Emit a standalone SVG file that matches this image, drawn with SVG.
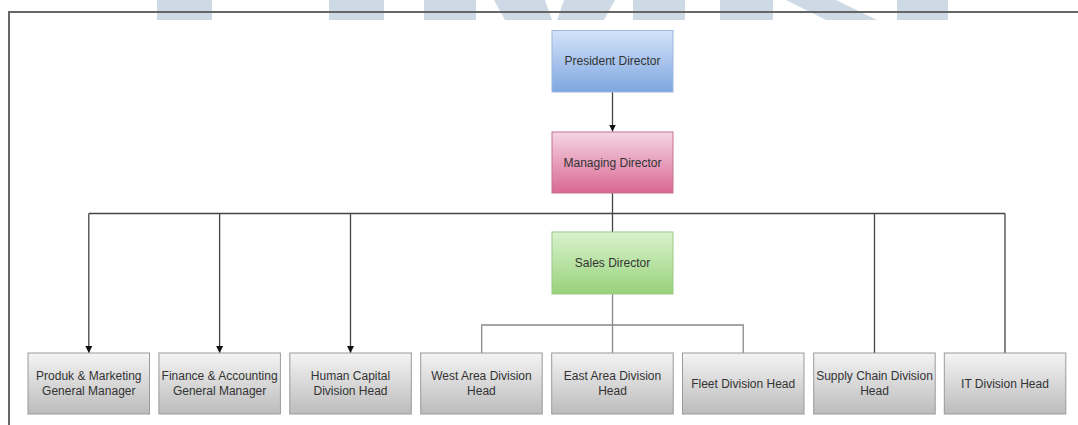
<svg xmlns="http://www.w3.org/2000/svg" width="1078" height="425" viewBox="0 0 1078 425">
<style>
.lbl{font-family:"Liberation Sans",Arial,sans-serif;font-size:12px;fill:#333;text-anchor:middle}
.wm{fill:#cdd9e4}
.frame{stroke:#666;stroke-width:2;fill:none}
.bus{stroke:#444;stroke-width:1.3;fill:none}
.sub{stroke:#888;stroke-width:1.3;fill:none}
.gbox{fill:url(#gGray);stroke:#9a9a9a;stroke-width:1}
</style>
<defs>
<linearGradient id="gBlue" x1="0" y1="0" x2="0" y2="1"><stop offset="0" stop-color="#d3e3f9"/><stop offset="1" stop-color="#7ea6e0"/></linearGradient>
<linearGradient id="gPink" x1="0" y1="0" x2="0" y2="1"><stop offset="0" stop-color="#f5d5e4"/><stop offset="1" stop-color="#d96893"/></linearGradient>
<linearGradient id="gGreen" x1="0" y1="0" x2="0" y2="1"><stop offset="0" stop-color="#d9f2cd"/><stop offset="1" stop-color="#97d27a"/></linearGradient>
<linearGradient id="gGray" x1="0" y1="0" x2="0" y2="1"><stop offset="0" stop-color="#f4f4f4"/><stop offset="1" stop-color="#bcbcbc"/></linearGradient>
<marker id="arr" viewBox="0 0 10 10" refX="10" refY="5" markerWidth="7" markerHeight="8" markerUnits="userSpaceOnUse" orient="auto"><path d="M0,0 L10,5 L0,10 z" fill="#111"/></marker>
</defs>
<rect width="1078" height="425" fill="#fff"/>
<g id="watermark">
<rect class="wm" x="157" y="0" width="55" height="20"/>
<rect class="wm" x="329" y="0" width="55" height="20"/>
<rect class="wm" x="424" y="0" width="52" height="20"/>
<polygon class="wm" points="494,0 545,0 552,20 505,20"/>
<polygon class="wm" points="615,0 564,0 557,20 604,20"/>
<rect class="wm" x="633" y="0" width="52" height="20"/>
<rect class="wm" x="720" y="0" width="53" height="20"/>
<polygon class="wm" points="786,0 836,0 877,20 826,20"/>
<rect class="wm" x="897" y="0" width="51" height="20"/>
</g>
<g id="frame">
<path class="frame" d="M9,425 V12 H1078"/>
</g>
<g id="connectors">
<line class="bus" x1="612.5" y1="92" x2="612.5" y2="131.5" marker-end="url(#arr)"/>
<line class="bus" x1="612.5" y1="193" x2="612.5" y2="232"/>
<line class="bus" x1="88.8" y1="213.5" x2="1005" y2="213.5"/>
<line class="bus" x1="88.8" y1="213.5" x2="88.8" y2="353" marker-end="url(#arr)"/>
<line class="bus" x1="219.6" y1="213.5" x2="219.6" y2="353" marker-end="url(#arr)"/>
<line class="bus" x1="350.5" y1="213.5" x2="350.5" y2="353" marker-end="url(#arr)"/>
<line class="bus" x1="874.5" y1="213.5" x2="874.5" y2="353"/>
<line class="bus" x1="1005" y1="213.5" x2="1005" y2="353"/>
<line class="sub" x1="612.5" y1="294" x2="612.5" y2="353"/>
<path class="sub" d="M481.7,353 V325 H743.2 V353"/>
</g>
<g id="president">
<rect x="552" y="30.5" width="121" height="61.5" fill="url(#gBlue)" stroke="#9db6de" stroke-width="1"/>
<text class="lbl" x="612.5" y="65">President Director</text>
</g>
<g id="managing">
<rect x="552" y="132" width="121" height="61" fill="url(#gPink)" stroke="#c4728f" stroke-width="1"/>
<text class="lbl" x="612.5" y="166.5">Managing Director</text>
</g>
<g id="sales">
<rect x="552" y="232" width="121" height="62" fill="url(#gGreen)" stroke="#9cc985" stroke-width="1"/>
<text class="lbl" x="612.5" y="267">Sales Director</text>
</g>
<g id="produk">
<rect class="gbox" x="28" y="353" width="121.5" height="61"/>
<text class="lbl" x="88.8" y="380">Produk &amp; Marketing</text>
<text class="lbl" x="88.8" y="395">General Manager</text>
</g>
<g id="finance">
<rect class="gbox" x="158.9" y="353" width="121.5" height="61"/>
<text class="lbl" x="219.6" y="380">Finance &amp; Accounting</text>
<text class="lbl" x="219.6" y="395">General Manager</text>
</g>
<g id="human">
<rect class="gbox" x="289.8" y="353" width="121.5" height="61"/>
<text class="lbl" x="350.5" y="380">Human Capital</text>
<text class="lbl" x="350.5" y="395">Division Head</text>
</g>
<g id="west">
<rect class="gbox" x="420.7" y="353" width="121.5" height="61"/>
<text class="lbl" x="481.4" y="380">West Area Division</text>
<text class="lbl" x="481.4" y="395">Head</text>
</g>
<g id="east">
<rect class="gbox" x="551.7" y="353" width="121.5" height="61"/>
<text class="lbl" x="612.5" y="380">East Area Division</text>
<text class="lbl" x="612.5" y="395">Head</text>
</g>
<g id="fleet">
<rect class="gbox" x="682.5" y="353" width="121.5" height="61"/>
<text class="lbl" x="743.2" y="387.5">Fleet Division Head</text>
</g>
<g id="supply">
<rect class="gbox" x="813.7" y="353" width="121.5" height="61"/>
<text class="lbl" x="874.5" y="380">Supply Chain Division</text>
<text class="lbl" x="874.5" y="395">Head</text>
</g>
<g id="it">
<rect class="gbox" x="944.3" y="353" width="121.5" height="61"/>
<text class="lbl" x="1005" y="387.5">IT Division Head</text>
</g>
</svg>
